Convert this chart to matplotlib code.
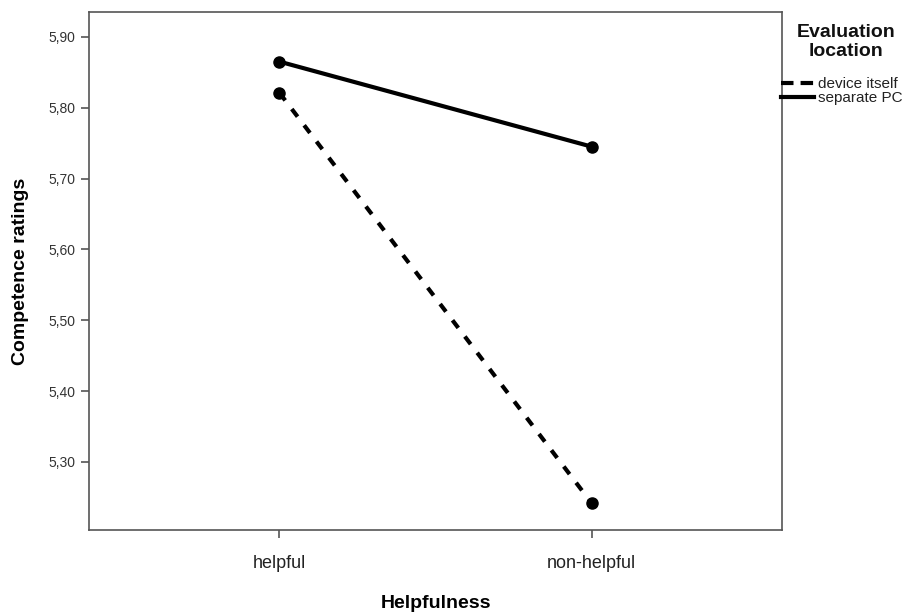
import matplotlib
matplotlib.use("Agg")
import matplotlib.pyplot as plt
from matplotlib.lines import Line2D
from matplotlib.ticker import FuncFormatter

plt.rcParams['font.family'] = ['Liberation Sans', 'DejaVu Sans']

categories = ["helpful", "non-helpful"]
device_itself = [5.821, 5.242]
separate_pc = [5.865, 5.745]
yticks = [5.30, 5.40, 5.50, 5.60, 5.70, 5.80, 5.90]

dash = (0, (2.3, 2.6))

fig = plt.figure(figsize=(9.09, 6.13), dpi=100)
ax = fig.add_axes([89/909, 1 - 530/613, 693/909, 518/613])

x = range(len(categories))
ax.plot(x, device_itself, color='black', lw=3, ls=dash,
        marker='o', ms=8, label='device itself')
ax.plot(x, separate_pc, color='black', lw=3, ls='-',
        marker='o', ms=8, label='separate PC')

ax.set_xlim(-0.61, 1.61)
ax.set_ylim(5.204, 5.935)
ax.set_xticks(list(x))
ax.set_xticklabels(categories)
ax.set_yticks(yticks)
ax.yaxis.set_major_formatter(FuncFormatter(lambda v, p: ("%.2f" % v).replace('.', ',')))

for s in ax.spines.values():
    s.set_color('#555555')
    s.set_linewidth(1.2)
ax.tick_params(axis='y', labelsize=10, colors='#555555', labelcolor='#333333',
               length=6, width=1.2, pad=4)
ax.tick_params(axis='x', labelsize=13, colors='#555555', labelcolor='#222222',
               length=6, width=1.2, pad=12)

ax.set_xlabel("Helpfulness", fontsize=14, fontweight='bold', va='center')
ax.xaxis.set_label_coords(0.5, -(603 - 530) / 518)
ax.set_ylabel("Competence ratings", fontsize=14, fontweight='bold', va='center')
ax.yaxis.set_label_coords((21 - 89) / 693, 0.5)

# legend without markers, title centred above
handles = [Line2D([], [], color='black', lw=3, ls=(0, (3.0, 1.7))),
           Line2D([], [], color='black', lw=3, ls='-')]
fig.text(846/909, 1 - 42/613, "Evaluation\nlocation", ha='center', va='center',
         fontsize=14, fontweight='bold', linespacing=1.1, color='#111111')
leg = fig.legend(handles, ['device itself', 'separate PC'], loc='upper left',
                 bbox_to_anchor=(781/909, 1 - 77/613), frameon=False,
                 fontsize=11, handlelength=2.15, handletextpad=0.25,
                 labelspacing=0.0, borderaxespad=0, borderpad=0)
for t in leg.get_texts():
    t.set_color('#222222')

fig.savefig("out.png", dpi=100)
